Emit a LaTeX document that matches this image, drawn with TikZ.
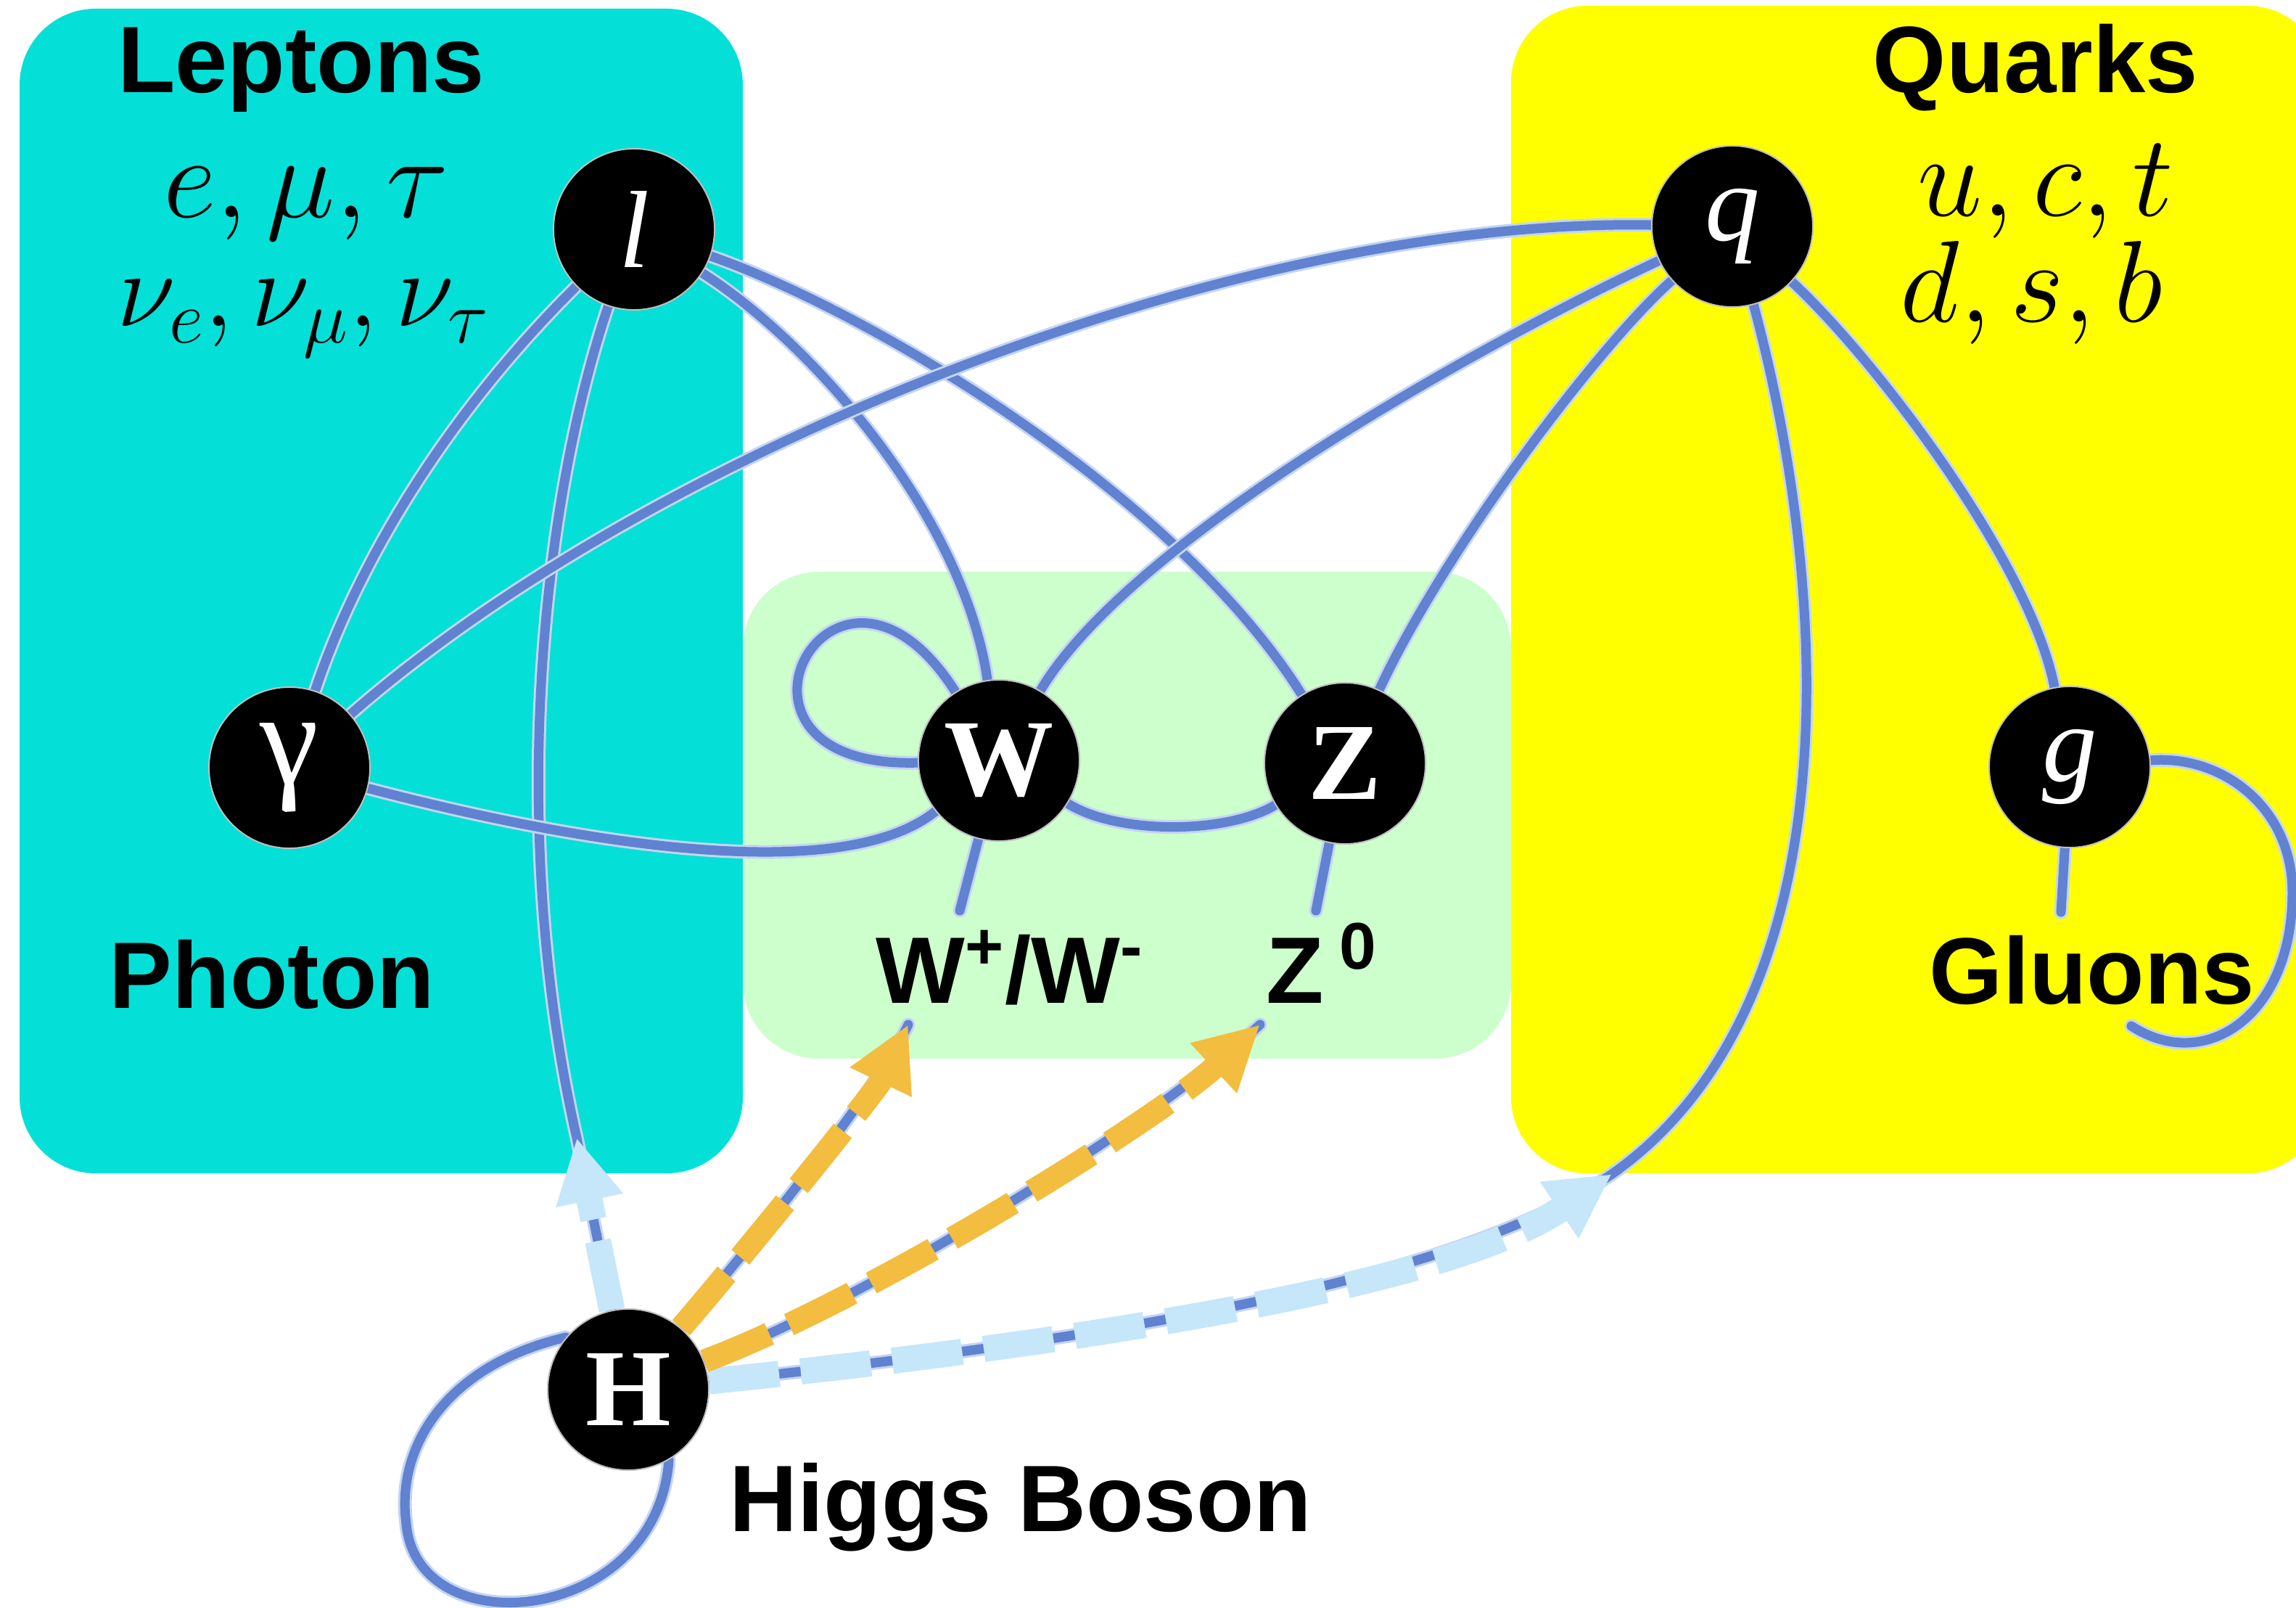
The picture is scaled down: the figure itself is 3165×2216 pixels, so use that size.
\RequirePackage{fix-cm}
\documentclass[tikz,border=0pt]{standalone}
\usepackage{fontspec}
\usetikzlibrary{arrows.meta}
\newfontfamily\sanslabel{Liberation Sans}
\newfontfamily\seriflabel{Liberation Serif}
\definecolor{leptoncyan}{RGB}{4,224,216}
\definecolor{quarkyellow}{RGB}{255,255,0}
\definecolor{bosongreen}{RGB}{204,255,204}
\definecolor{linkblue}{RGB}{96,130,208}
\definecolor{linkhalo}{RGB}{196,213,242}
\definecolor{decaylight}{RGB}{198,230,249}
\definecolor{decayorange}{RGB}{243,189,64}
\pgfdeclarelayer{boxes}
\pgfdeclarelayer{links}
\pgfsetlayers{boxes,links,main}
\begin{document}
\begin{tikzpicture}[x=0.01cm,y=-0.01cm,
  particle/.style={circle, fill=black, draw=gray!50, line width=0.02cm,
    minimum size=2.22cm, inner sep=0pt, text=white,
    font=\seriflabel\fontsize{43}{50}\selectfont},
  group/.style={font=\sanslabel\bfseries\fontsize{37}{44}\selectfont,
    anchor=base, inner sep=0pt},
  members/.style={font=\fontsize{45.5}{50}\selectfont, anchor=base, inner sep=0pt},
  link/.style={draw=linkblue, line width=0.13cm, line cap=round,
    preaction={draw=linkhalo, line width=0.19cm, line cap=round}},
  decay/.style={dash pattern=on 0.97cm off 0.30cm,
    -{Triangle[length=0.88cm,width=0.88cm]}},
  decaythin/.style={decay, line width=0.32cm},
  decaywide/.style={decay, line width=0.36cm},
]
\useasboundingbox (0,0) rectangle (3165,2216);
\clip (0,0) rectangle (3165,2216);

% particle nodes
\node[particle] (l)   at (874,316)   {\itshape l};
\node[particle] (q)   at (2388,312)  {\itshape q};
\node[particle] (gam) at (399,1058)  {\fontsize{52}{56}\selectfont γ};
\node[particle] (W)   at (1377,1048) {\bfseries W};
\node[particle] (Z)   at (1854,1052) {\bfseries Z};
\node[particle] (g)   at (2853,1057) {\itshape g};
\node[particle] (H)   at (866,1915)  {\bfseries H};

% free ends of connectors
\coordinate (lt)    at (795,1568);
\coordinate (qt)    at (2222,1618);
\coordinate (wt)    at (1252,1412);
\coordinate (zt)    at (1737,1412);
\coordinate (wstub) at (1323,1255);
\coordinate (zstub) at (1814,1255);
\coordinate (gstub) at (2841,1257);
\coordinate (gend)  at (2938,1414);
\coordinate (gturn) at (3160,1230);
\coordinate (hturn) at (560,2100);

% group labels
\node[group] (leptons) at (415,128)   {Leptons};
\node[group] (quarks)  at (2806,128)  {Quarks};
\node[group] (photon)  at (375,1390)  {Photon};
\node[group] (gluons)  at (2884,1384) {Gluons};
\node[group] (higgs)   at (1407,2110) {Higgs Boson};
\node[group] (wlab)    at (1392,1383) {W\textsuperscript{+}/W\textsuperscript{-}};
\node[group] (zlab)    at (1822,1383) {Z\,\textsuperscript{0}};
\node[members] (lep1) at (422,300)  {$e,\mu,\tau$};
\node[members, font=\fontsize{42}{46}\selectfont] (lep2) at (418,450)
  {$\nu_e,\nu_\mu,\nu_\tau$};
\node[members] (qk1)  at (2820,298) {$u,c,t$};
\node[members] (qk2)  at (2801,444) {$d,s,b$};

% coloured group panels
\begin{pgfonlayer}{boxes}
  \fill[leptoncyan,  rounded corners=1.05cm] (27,12)    rectangle (1024,1617);
  \fill[quarkyellow, rounded corners=1.05cm] (2083,8)   rectangle (3203,1617);
  \fill[bosongreen,  rounded corners=1.05cm] (1024,788) rectangle (2083,1459);
\end{pgfonlayer}

% interaction lines
\begin{pgfonlayer}{links}
  \draw[link] (l) .. controls (623,564) and (496,767) .. (gam);
  \draw[link] (l) .. controls (745,700) and (700,1150) .. (lt) -- (H);
  \draw[link] (l) .. controls (1130,480) and (1330,720) .. (W);
  \draw[link] (l) .. controls (1200,430) and (1620,680) .. (Z);
  \draw[link] (q) .. controls (1700,300) and (900,620) .. (gam);
  \draw[link] (q) .. controls (2050,470) and (1560,740) .. (W);
  \draw[link] (q) .. controls (2200,480) and (1990,760) .. (Z);
  \draw[link] (q) .. controls (2590,500) and (2800,780) .. (g);
  \draw[link] (q) .. controls (2520,800) and (2560,1380) .. (qt)
                  .. controls (2000,1770) and (1500,1850) .. (H);
  \draw[link] (gam) .. controls (750,1150) and (1150,1230) .. (W);
  \draw[link] (W) .. controls (1150,690) and (950,1060) .. (W);
  \draw[link] (W) .. controls (1540,1150) and (1690,1150) .. (Z);
  \draw[link] (W) -- (wstub);
  \draw[link] (Z) -- (zstub);
  \draw[link] (g) -- (gstub);
  \draw[link] (g) .. controls (3060,1040) and (3160,1110) .. (gturn)
                  .. controls (3160,1400) and (3040,1480) .. (gend);
  \draw[link] (H.140) .. controls (620,1880) and (545,1990) .. (hturn)
                      .. controls (575,2270) and (905,2240) .. (H.-60);
  \draw[link] (H) .. controls (1050,1700) and (1210,1500) .. (wt);
  \draw[link] (H) .. controls (1200,1790) and (1600,1540) .. (zt);

  % Higgs couplings
  \draw[decaywide, decaylight]  (H) -- (lt);
  \draw[decaywide, decaylight]  (H) .. controls (1500,1850) and (2000,1770) .. (qt);
  \draw[decaythin, decayorange] (H) .. controls (1050,1700) and (1210,1500) .. (wt);
  \draw[decaythin, decayorange] (H) .. controls (1200,1790) and (1600,1540) .. (zt);
\end{pgfonlayer}
\end{tikzpicture}
\end{document}
